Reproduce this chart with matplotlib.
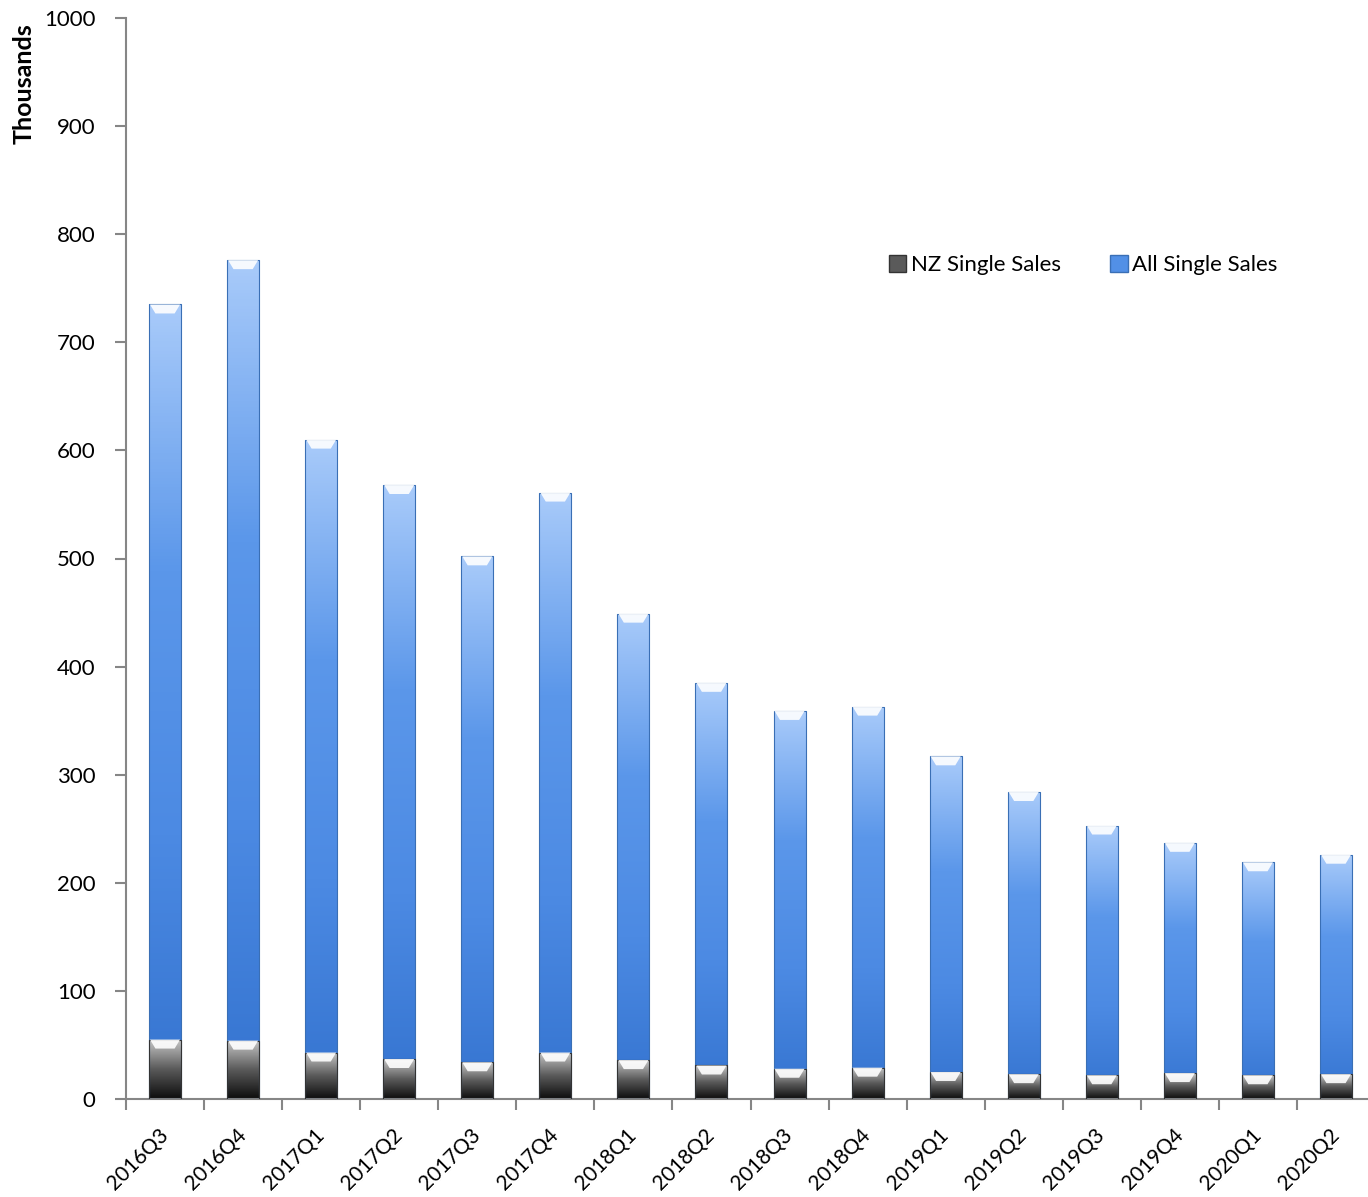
import numpy as np
import matplotlib
matplotlib.use("Agg")
import matplotlib.pyplot as plt
from matplotlib.colors import LinearSegmentedColormap
from matplotlib.patches import Patch, Polygon

# ── 데이터 ─────────────────────────────────────────
quarters = ["2016Q3", "2016Q4", "2017Q1", "2017Q2", "2017Q3", "2017Q4",
            "2018Q1", "2018Q2", "2018Q3", "2018Q4", "2019Q1", "2019Q2",
            "2019Q3", "2019Q4", "2020Q1", "2020Q2"]
all_sales = [735, 776, 610, 568, 502, 561, 449, 385, 359, 363, 317, 284,
             253, 237, 219, 226]
nz_sales = [55, 54, 43, 37, 34, 43, 36, 31, 28, 29, 25, 23, 22, 24, 22, 23]

plt.rcParams["font.family"] = ["Lato", "DejaVu Sans"]

BAR_W = 0.41
blue_cmap = LinearSegmentedColormap.from_list(
    "blue", ["#3473cf", "#4c8ae3", "#5b97ea", "#a9cbfa"])
gray_cmap = LinearSegmentedColormap.from_list(
    "gray", ["#0c0c0c", "#5a5a5a", "#c8c8c8"])


def draw_bars(ax, values, cmap, edge):
    """세로 그라데이션 막대 + 위쪽 흰 베벨."""
    bars = ax.bar(range(len(values)), values, width=BAR_W, color="none",
                  edgecolor=edge, linewidth=0.8, zorder=3)
    grad = np.linspace(0, 1, 256).reshape(-1, 1)
    bevel = 9 / 1.081  # 약 9px 높이
    for b in bars:
        x0, y0 = b.get_x(), b.get_y()
        w, h = b.get_width(), b.get_height()
        im = ax.imshow(grad, cmap=cmap, origin="lower", aspect="auto",
                       extent=[x0, x0 + w, y0, y0 + h], zorder=2)
        im.set_clip_path(b)
        tri = Polygon([[x0 + w * 0.03, y0 + h], [x0 + w * 0.97, y0 + h],
                       [x0 + w * 0.8, y0 + h - bevel],
                       [x0 + w * 0.2, y0 + h - bevel]],
                      closed=True, facecolor="white", alpha=0.9,
                      edgecolor="none", zorder=4)
        ax.add_patch(tri)
    return bars


fig = plt.figure(figsize=(13.68, 11.97), dpi=100)
ax = fig.add_axes([126 / 1368, 98 / 1197, 1242 / 1368, 1081 / 1197])

draw_bars(ax, all_sales, blue_cmap, "#3a6fb5")
draw_bars(ax, nz_sales, gray_cmap, "#333333")

ax.set_ylim(0, 1000)
ax.set_xlim(-0.5, 15.41)
ax.set_yticks(range(0, 1001, 100))
ax.set_xticks(np.arange(-0.5, 15.5, 1.0))
ax.set_xticklabels([])
ax.set_xticks(range(len(quarters)), minor=True)
ax.set_xticklabels(quarters, minor=True, rotation=45, ha="right",
                   va="center", rotation_mode="anchor", fontsize=15)
ax.tick_params(axis="x", which="minor", length=0, pad=24)
ax.tick_params(axis="x", which="major", length=8, color="#868686", width=1.5)
ax.tick_params(axis="y", length=8, color="#868686", width=1.5,
               labelsize=16, pad=14)

for side in ["top", "right"]:
    ax.spines[side].set_visible(False)
for side in ["left", "bottom"]:
    ax.spines[side].set_color("#868686")
    ax.spines[side].set_linewidth(1.5)

fig.text(24 / 1368, 1 - 84 / 1197, "Thousands", rotation=90, ha="center",
         va="center", fontsize=18, fontweight="bold")

handles = [Patch(facecolor="#5a5a5a", edgecolor="#333333"),
           Patch(facecolor="#5290e6", edgecolor="#3a6fb5")]
leg = ax.legend(handles, ["NZ Single Sales", "All Single Sales"], ncol=2,
                frameon=False, fontsize=16, handlelength=0.8,
                handleheight=0.8, handletextpad=0.2, columnspacing=2.2,
                loc="center")
leg.set_bbox_to_anchor((1083 / 1368, 1 - 265 / 1197), transform=fig.transFigure)

fig.savefig("out.png", dpi=100)
